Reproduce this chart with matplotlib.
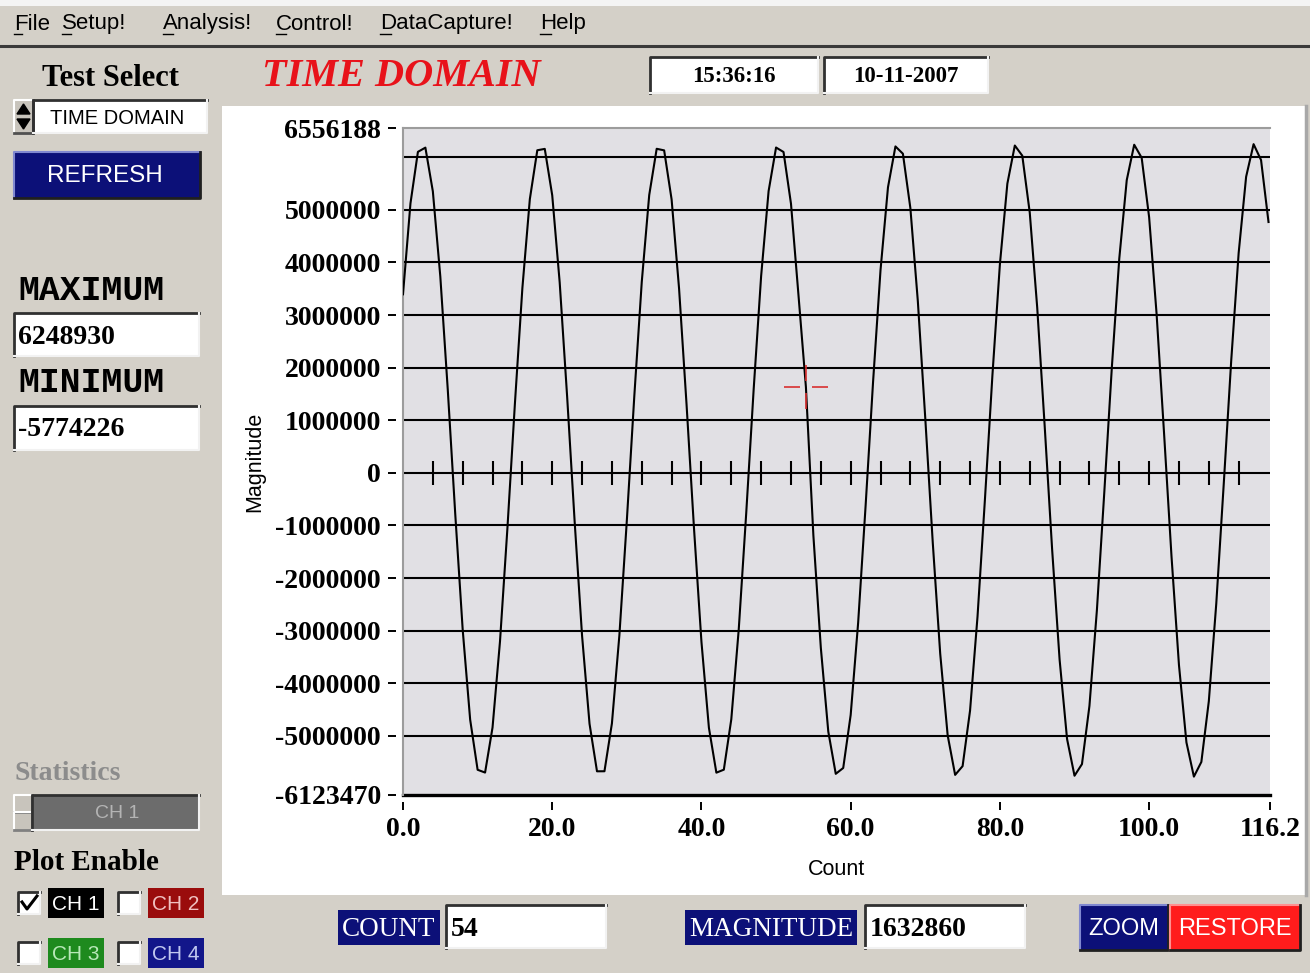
import matplotlib
matplotlib.use("Agg")
import matplotlib.pyplot as plt
from matplotlib.patches import Rectangle, Polygon
from matplotlib.path import Path

plt.rcParams["font.family"] = ["Liberation Sans", "DejaVu Sans"]

# CH 1 trace, one sample per count
magnitude = [
    3395000, 5123000, 6103000, 6183000, 5352000, 3734000, 1583000, -777000,
    -2980000, -4690000, -5644000, -5697000, -4840000, -3204000, -1040000, 1320000,
    3513000, 5204000, 6133000, 6159000, 5277000, 3621000, 1446000, -914000,
    -3097000, -4770000, -5673000, -5672000, -4763000, -3088000, -904000, 1457000,
    3630000, 5282000, 6161000, 6131000, 5198000, 3504000, 1308000, -1051000,
    -3213000, -4846000, -5699000, -5642000, -4684000, -2971000, -766000, 1593000,
    3744000, 5357000, 6185000, 6100000, 5117000, 3386000, 1632860, -1187000,
    -3326000, -4919000, -5721000, -5610000, -4602000, -2851000, -628000, 1728000,
    3856000, 5429000, 6206000, 6067000, 5034000, 3266000, 1033000, -1322000,
    -3438000, -4991000, -5741000, -5575000, -4518000, -2731000, -489000, 1863000,
    3967000, 5499000, 6223000, 6030000, 4948000, 3144000, 894000, -1456000,
    -3548000, -5058000, -5757000, -5536000, -4430000, -2609000, -350000, 1998000,
    4076000, 5565000, 6238000, 5990000, 4860000, 3022000, 755000, -1590000,
    -3655000, -5124000, -5774226, -5495000, -4341000, -2484000, -212000, 2130000,
    4182000, 5629000, 6248930, 5947000, 4769000,
]
counts = list(range(len(magnitude)))

x_ticks = [0, 20, 40, 60, 80, 100, 116.2]
x_labels = ["0.0", "20.0", "40.0", "60.0", "80.0", "100.0", "116.2"]
y_ticks = [-6123470, -5000000, -4000000, -3000000, -2000000, -1000000, 0,
           1000000, 2000000, 3000000, 4000000, 5000000, 6556188]
y_labels = ["-6123470", "-5000000", "-4000000", "-3000000", "-2000000", "-1000000", "0",
            "1000000", "2000000", "3000000", "4000000", "5000000", "6556188"]
grid_levels = [-5000000, -4000000, -3000000, -2000000, -1000000, 0,
               1000000, 2000000, 3000000, 4000000, 5000000, 6000000]
zero_marks = [4, 8, 12, 16, 20, 24, 28, 32, 36, 40, 44, 48, 52, 56,
              60, 64, 68, 72, 76, 80, 84, 88, 92, 96, 100, 104, 108, 112]
cursor_count = 54
cursor_mag = 1632860
max_text = "6248930"
min_text = "-5774226"
menu_items = ["File", "Setup!", "Analysis!", "Control!", "DataCapture!", "Help"]

W, H = 1310, 973
GRAY = "#D4D0C8"
NAVY = "#0C1078"
SERIF = ["Liberation Serif", "DejaVu Serif"]

fig = plt.figure(figsize=(W / 100, H / 100), dpi=100, facecolor=GRAY)

# ---- panel widgets, drawn in pixel space ----
bg = fig.add_axes([0, 0, 1, 1], zorder=0)
bg.set_xlim(0, W)
bg.set_ylim(H, 0)
bg.axis("off")


def box(x0, y0, x1, y1, face, z=1):
    bg.add_patch(Rectangle((x0, y0), x1 - x0, y1 - y0, facecolor=face,
                           edgecolor="none", zorder=z))


def sunken(x0, y0, x1, y1, face="white"):
    box(x0, y0, x1, y1, face)
    bg.plot([x0, x0, x1], [y1, y0, y0], color="#303030", lw=2, zorder=2)
    bg.plot([x1, x1, x0], [y0, y1, y1], color="#F2F2F2", lw=1.5, zorder=2)


def raised(x0, y0, x1, y1, face, light="#8088D0", dark="#202020"):
    box(x0, y0, x1, y1, face)
    bg.plot([x0, x0, x1], [y1, y0, y0], color=light, lw=1.5, zorder=2)
    bg.plot([x1, x1, x0], [y0, y1, y1], color=dark, lw=2, zorder=2)


# menu bar
box(0, 0, W, 6, "#F4F4F4")
menu_x = [14, 62, 163, 276, 380, 540]
under_w = [8, 9, 10, 10, 11, 11]
for name, mx, uw in zip(menu_items, menu_x, under_w):
    bg.text(mx, 24, name, fontsize=16, va="center", ha="left", color="black")
    bg.plot([mx, mx + uw], [34, 34], color="black", lw=1)
bg.plot([0, W], [46, 46], color="#3A3A3A", lw=2.2)

# graph panel
box(222, 106, 1305, 895, "white")
bg.plot([1306, 1306], [106, 895], color="#A8A8A8", lw=2.5)

# title, clock
bg.text(262, 76, "TIME DOMAIN", color="#E8121A", fontsize=29, fontweight="bold",
        style="italic", family=SERIF, va="center", ha="left")
sunken(650, 57, 818, 93)
bg.text(734, 77, "15:36:16", fontsize=16.5, fontweight="bold", family=SERIF,
        ha="center", va="center", zorder=3)
sunken(824, 57, 988, 93)
bg.text(906, 77, "10-11-2007", fontsize=16.5, fontweight="bold", family=SERIF,
        ha="center", va="center", zorder=3)

# left column
bg.text(110, 79, "Test Select", fontsize=22, fontweight="bold", family=SERIF,
        ha="center", va="center")
raised(14, 100, 33, 133, "#C8C4BC", light="white", dark="#505050")
bg.add_patch(Polygon([(17, 114), (30, 114), (23.5, 104)], color="black", zorder=3))
bg.add_patch(Polygon([(17, 119), (30, 119), (23.5, 129)], color="black", zorder=3))
sunken(33, 100, 207, 133)
bg.text(50, 118, "TIME DOMAIN", fontsize=14.5, ha="left", va="center", zorder=3)

raised(14, 152, 200, 198, NAVY)
bg.text(105, 176, "REFRESH", fontsize=17.5, color="white", ha="center",
        va="center", zorder=3)

mono = ["Liberation Mono", "DejaVu Sans Mono"]
bg.text(18, 290, "MAXIMUM", fontsize=25, fontweight="bold", family=mono,
        ha="left", va="center")
sunken(14, 313, 199, 356)
bg.text(18, 337, max_text, fontsize=20, fontweight="bold", family=SERIF,
        ha="left", va="center", zorder=3)
bg.text(18, 383, "MINIMUM", fontsize=25, fontweight="bold", family=mono,
        ha="left", va="center")
sunken(14, 406, 199, 450)
bg.text(18, 430, min_text, fontsize=20, fontweight="bold", family=SERIF,
        ha="left", va="center", zorder=3)

bg.text(14, 774, "Statistics", fontsize=20, fontweight="bold", family=SERIF,
        color="#8C8C8C", ha="left", va="center")
raised(14, 795, 32, 812, "#C8C4BC", light="white", dark="#808080")
raised(14, 812, 32, 830, "#C8C4BC", light="white", dark="#808080")
sunken(32, 795, 199, 830, face="#6C6C6C")
bg.text(117, 814, "CH 1", fontsize=14, color="#B4B4B4", ha="center",
        va="center", zorder=3)

bg.text(14, 862, "Plot Enable", fontsize=21, fontweight="bold", family=SERIF,
        ha="left", va="center")

chan_names = ["CH 1", "CH 2", "CH 3", "CH 4"]
chan_face = ["black", "#9A0C0C", "#1E8A1E", "#12168A"]
chan_text = ["white", "#F0C0C0", "#B8E8B8", "#C0C8F0"]
chan_pos = [(18, 888), (118, 888), (18, 938), (118, 938)]
for name, face, tc, (cx, cy) in zip(chan_names, chan_face, chan_text, chan_pos):
    sunken(cx, cy + 4, cx + 22, cy + 26)
    box(cx + 30, cy, cx + 86, cy + 30, face)
    bg.text(cx + 58, cy + 16, name, fontsize=15, color=tc, ha="center",
            va="center", zorder=3)
bg.plot([22, 27, 37], [902, 909, 896], color="black", lw=2.2, zorder=4)

# bottom readouts and buttons
box(338, 910, 440, 945, NAVY)
bg.text(389, 929, "COUNT", fontsize=19.5, family=SERIF, color="white",
        ha="center", va="center", zorder=3)
sunken(446, 905, 606, 948)
bg.text(451, 929, str(cursor_count), fontsize=20, fontweight="bold",
        family=SERIF, ha="left", va="center", zorder=3)
box(685, 910, 857, 945, NAVY)
bg.text(771, 929, "MAGNITUDE", fontsize=19.5, family=SERIF, color="white",
        ha="center", va="center", zorder=3)
sunken(865, 905, 1025, 948)
bg.text(870, 929, str(cursor_mag), fontsize=20, fontweight="bold",
        family=SERIF, ha="left", va="center", zorder=3)
raised(1080, 905, 1168, 950, NAVY)
bg.text(1124, 929, "ZOOM", fontsize=17, color="white", ha="center",
        va="center", zorder=3)
raised(1170, 905, 1300, 950, "#FF1C1C", light="#FF9090", dark="#202020")
bg.text(1235, 929, "RESTORE", fontsize=17, color="white", ha="center",
        va="center", zorder=3)

# ---- the graph ----
ax = fig.add_axes([403 / W, 1 - 795 / H, 867 / W, 667 / H], zorder=2)
ax.set_facecolor("#E1E0E4")
ax.set_xlim(0, 116.2)
ax.set_ylim(-6123470, 6556188)

for lv in grid_levels:
    ax.axhline(lv, color="black", lw=1.5, zorder=1)
ax.axhline(-6123470, color="black", lw=2.4, clip_on=False, zorder=1)
ax.axvline(0, color="#9C9C9C", lw=1.5, clip_on=False, zorder=1)

ax.plot(counts, magnitude, color="black", lw=1.5, zorder=3)
ax.plot(zero_marks, [0] * len(zero_marks), ls="none", marker="|", ms=17,
        mew=1.5, color="black", zorder=3)

cross = Path([(-1, 0), (-0.3, 0), (0.3, 0), (1, 0), (0, -1), (0, -0.3), (0, 0.3), (0, 1)],
             [Path.MOVETO, Path.LINETO, Path.MOVETO, Path.LINETO,
              Path.MOVETO, Path.LINETO, Path.MOVETO, Path.LINETO])
ax.plot([cursor_count], [cursor_mag], ls="none", marker=cross, ms=31,
        mec="#D83030", mew=1.2, zorder=4)

for side in ["right", "left", "bottom"]:
    ax.spines[side].set_visible(False)
ax.spines["top"].set_color("#9C9C9C")
ax.spines["top"].set_linewidth(1.5)
ax.spines["left"].set_position(("outward", 5))
ax.spines["bottom"].set_position(("outward", 5))

ax.set_xticks(x_ticks, x_labels)
ax.set_yticks(y_ticks, y_labels)
ax.tick_params(axis="both", length=6, width=1.4, color="black", pad=5,
               labelsize=20)
for lbl in ax.get_xticklabels() + ax.get_yticklabels():
    lbl.set_family(SERIF)
    lbl.set_fontweight("bold")

ax.set_xlabel("Count", fontsize=15.5, labelpad=12)
ax.set_ylabel("Magnitude", fontsize=15.5, labelpad=7)

fig.savefig("out.png", dpi=100, facecolor=GRAY)
